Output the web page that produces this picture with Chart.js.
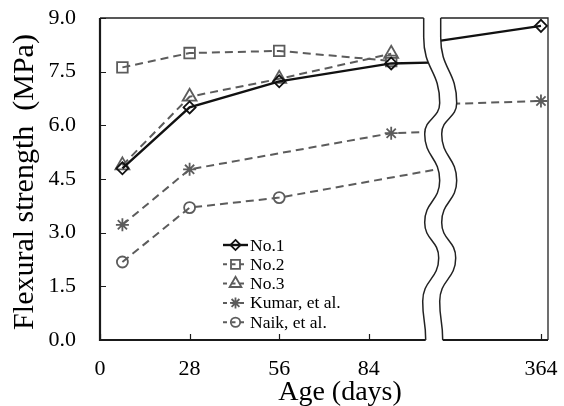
<!DOCTYPE html>
<html><head><meta charset="utf-8">
<script src="https://cdn.jsdelivr.net/npm/chart.js@4/dist/chart.umd.min.js"></script>
<style>html,body{margin:0;padding:0;background:#fff}canvas{display:block}</style>
</head><body>
<canvas id="c" width="564" height="406"></canvas>
<script>
// ---------------- data ----------------
const ages = [7, 28, 56, 91];               // test ages (days) before the axis break
const lateAge = 364;                         // test age after the axis break
const no1   = [4.80, 6.50, 7.23, 7.73];
const no2   = [7.62, 8.02, 8.08, 7.80];
const no3   = [4.88, 6.80, 7.30, 8.00];
const kumar = [3.22, 4.77, null, 5.78];
const naik  = [2.18, 3.70, 3.98, null];
const no1Late   = 8.78;
const kumarLate = 6.68;
// values where each line enters / leaves the axis break [left side, right side]
const no1AtBreak   = [7.76, 8.36];
const kumarAtBreak = [5.83, 6.59];
const naikAtBreak  = [4.78, null];
const xTickDays = [0, 28, 56, 84, 364];
const yMin = 0, yMax = 9, yStep = 1.5;
const seriesNames = ['No.1', 'No.2', 'No.3', 'Kumar, et al.', 'Naik, et al.'];

// ---------------- broken x axis mapping ----------------
const AXIS_MAX = 140;     // axis units (days before the break)
const BREAK_POS = 106;    // where the break sits on the axis
const LATE_POS = 137.8;   // axis position used for the late age
function axisPos(day) { return day >= lateAge ? LATE_POS : day; }

const GRAY = '#5c5c5c';
const FONT = "'Liberation Serif', 'Times New Roman', serif";

function leftPoints(vals, atBreak) {
  const pts = [];
  ages.forEach((a, i) => { if (vals[i] != null) pts.push({x: axisPos(a), y: vals[i], mark: true}); });
  if (atBreak && atBreak[0] != null) pts.push({x: BREAK_POS, y: atBreak[0], mark: false});
  return pts;
}
function rightPoints(lateVal, atBreak) {
  return [{x: BREAK_POS, y: atBreak[1], mark: false}, {x: axisPos(lateAge), y: lateVal, mark: true}];
}

const styles = [
  {color: '#111', dash: [], width: 2.4, point: 'rectRot', r: 6},
  {color: GRAY, dash: [8, 5], width: 2, point: 'rect', r: 7.5},
  {color: GRAY, dash: [8, 5], width: 2, point: 'triangle', r: 8},
  {color: GRAY, dash: [8, 5], width: 2, point: 'star', r: 6.5},
  {color: GRAY, dash: [8, 5], width: 2, point: 'circle', r: 5.5},
];

function makeDs(label, data, st) {
  return {
    label, data,
    borderColor: st.color, borderWidth: st.width, borderDash: st.dash,
    pointStyle: st.point,
    pointRadius: c => (c.raw && c.raw.mark) ? st.r : 0,
    pointBorderColor: st.color, pointBackgroundColor: 'rgba(0,0,0,0)',
    pointBorderWidth: 1.8, tension: 0, spanGaps: true, fill: false
  };
}

const datasets = [
  makeDs(seriesNames[0], leftPoints(no1, no1AtBreak), styles[0]),
  makeDs(seriesNames[1], leftPoints(no2), styles[1]),
  makeDs(seriesNames[2], leftPoints(no3), styles[2]),
  makeDs(seriesNames[3], leftPoints(kumar, kumarAtBreak), styles[3]),
  makeDs(seriesNames[4], leftPoints(naik, naikAtBreak), styles[4]),
  makeDs(seriesNames[0] + ' (late)', rightPoints(no1Late, no1AtBreak), styles[0]),
  makeDs(seriesNames[3] + ' (late)', rightPoints(kumarLate, kumarAtBreak), styles[3]),
];

function drawMarker(ctx, style, r, x, y) {
  ctx.beginPath();
  if (style === 'rectRot') {
    ctx.moveTo(x, y - r); ctx.lineTo(x + r, y); ctx.lineTo(x, y + r); ctx.lineTo(x - r, y); ctx.closePath();
  } else if (style === 'rect') {
    const s = r * Math.SQRT1_2; ctx.rect(x - s, y - s, 2 * s, 2 * s);
  } else if (style === 'triangle') {
    ctx.moveTo(x, y - r); ctx.lineTo(x + r * 0.866, y + r * 0.5); ctx.lineTo(x - r * 0.866, y + r * 0.5); ctx.closePath();
  } else if (style === 'star') {
    const d = r * Math.SQRT1_2;
    ctx.moveTo(x - r, y); ctx.lineTo(x + r, y); ctx.moveTo(x, y - r); ctx.lineTo(x, y + r);
    ctx.moveTo(x - d, y - d); ctx.lineTo(x + d, y + d); ctx.moveTo(x - d, y + d); ctx.lineTo(x + d, y - d);
  } else {
    ctx.arc(x, y, r, 0, Math.PI * 2);
  }
  ctx.stroke();
}

// extrema of the axis-break wave: [fraction of plot height, horizontal offset px]
const wave = [[0,-7],[0.06,-7],[0.264,9],[0.36,-6],[0.505,9],[0.635,-6],[0.745,8],[0.88,-8],[1,-5]];
const BREAK_GAP = 17;

function wavePath(ctx, pts, start) {
  if (start) ctx.moveTo(pts[0][0], pts[0][1]); else ctx.lineTo(pts[0][0], pts[0][1]);
  for (let i = 1; i < pts.length; i++) {
    const [x0, y0] = pts[i - 1], [x1, y1] = pts[i];
    const my = (y1 - y0) / 2;
    ctx.bezierCurveTo(x0, y0 + my, x1, y1 - my, x1, y1);
  }
}

const framePlugin = {
  id: 'frame',
  beforeDatasetsDraw(chart) {
    const {ctx, chartArea: {left, right, top, bottom}, scales: {x, y}} = chart;
    ctx.save();
    ctx.strokeStyle = '#222'; ctx.lineWidth = 1.3;
    ctx.beginPath(); ctx.moveTo(left, top); ctx.lineTo(right, top); ctx.lineTo(right, bottom); ctx.stroke();
    ctx.lineWidth = 2.2; ctx.strokeStyle = '#1a1a1a';
    ctx.beginPath(); ctx.moveTo(left, top); ctx.lineTo(left, bottom); ctx.lineTo(right, bottom); ctx.stroke();
    ctx.lineWidth = 1.2;
    ctx.beginPath();
    y.ticks.forEach(t => { const py = Math.round(y.getPixelForValue(t.value)) + 0.5; ctx.moveTo(left, py); ctx.lineTo(left + 6, py); });
    x.ticks.forEach(t => { const px = Math.round(x.getPixelForValue(t.value)) + 0.5; ctx.moveTo(px, bottom); ctx.lineTo(px, bottom - 6); });
    ctx.stroke();
    ctx.restore();
  },
  afterDatasetsDraw(chart) {
    const {ctx, chartArea: {top, bottom}, scales: {x}} = chart;
    const center = x.getPixelForValue(BREAK_POS);
    const h = bottom - top;
    const L = wave.map(([f, dx]) => [center - BREAK_GAP / 2 + dx, top + f * h]);
    const R = wave.map(([f, dx]) => [center + BREAK_GAP / 2 + dx, top + f * h]);
    ctx.save();
    const Lx = [[L[0][0], top - 3], ...L, [L[L.length - 1][0], bottom + 3]];
    const Rx = [[R[0][0], top - 3], ...R, [R[R.length - 1][0], bottom + 3]];
    ctx.beginPath();
    wavePath(ctx, Lx, true);
    wavePath(ctx, Rx.slice().reverse(), false);
    ctx.closePath();
    ctx.fillStyle = '#fff'; ctx.fill();
    ctx.strokeStyle = '#222'; ctx.lineWidth = 1.5;
    ctx.beginPath(); wavePath(ctx, L, true); ctx.stroke();
    ctx.beginPath(); wavePath(ctx, R, true); ctx.stroke();
    ctx.restore();
  },
  afterDraw(chart) {
    const {ctx} = chart;
    ctx.save();
    ctx.fillStyle = '#000';
    ctx.font = `28px ${FONT}`;
    ctx.textAlign = 'center'; ctx.textBaseline = 'alphabetic';
    ctx.fillText('Age (days)', 340, 400);
    ctx.save();
    ctx.translate(25, 182);
    ctx.rotate(-Math.PI / 2);
    ctx.font = `30px ${FONT}`;
    ctx.textBaseline = 'middle';
    ctx.fillText('Flexural strength  (MPa)', 0, 0);
    ctx.restore();
    const lx0 = 223, lx1 = 248, tx = 250, y0 = 245, dy = 19.3;
    for (let i = 0; i < 5; i++) {
      const st = styles[i], yy = y0 + i * dy;
      ctx.strokeStyle = st.color; ctx.lineWidth = st.width;
      ctx.setLineDash(i === 0 ? [] : [4, 4.5]);
      ctx.beginPath(); ctx.moveTo(lx0, yy); ctx.lineTo(lx1, yy); ctx.stroke();
      ctx.setLineDash([]);
      ctx.lineWidth = 1.8;
      drawMarker(ctx, st.point, st.r * 0.85, (lx0 + lx1) / 2, yy);
      ctx.fillStyle = '#000';
      ctx.font = `17.5px ${FONT}`;
      ctx.textAlign = 'left'; ctx.textBaseline = 'middle';
      ctx.fillText(seriesNames[i], tx, yy + 1);
    }
    ctx.restore();
  }
};

new Chart(document.getElementById('c'), {
  type: 'line',
  data: {datasets},
  plugins: [framePlugin],
  options: {
    responsive: false, animation: false,
    layout: {padding: {left: 0, right: 16, top: 0, bottom: 0}},
    plugins: {legend: {display: false}, tooltip: {enabled: false}},
    scales: {
      x: {
        type: 'linear', min: 0, max: AXIS_MAX,
        grid: {display: false, drawTicks: false}, border: {display: false},
        afterBuildTicks: s => { s.ticks = xTickDays.map(d => ({value: axisPos(d)})); },
        afterFit: s => { s.height = 66; s.paddingLeft = 0; s.paddingRight = 0; },
        ticks: {autoSkip: false, maxRotation: 0, padding: 16, color: '#000',
          font: {family: FONT, size: 22},
          callback: (v, i) => String(xTickDays[i])}
      },
      y: {
        min: yMin, max: yMax,
        grid: {display: false, drawTicks: false}, border: {display: false},
        afterFit: s => { s.width = 100; s.paddingTop = 18; s.paddingBottom = 0; },
        ticks: {stepSize: yStep, padding: 24, color: '#000',
          font: {family: FONT, size: 22},
          callback: v => v.toFixed(1)}
      }
    }
  }
});
</script>
</body></html>
